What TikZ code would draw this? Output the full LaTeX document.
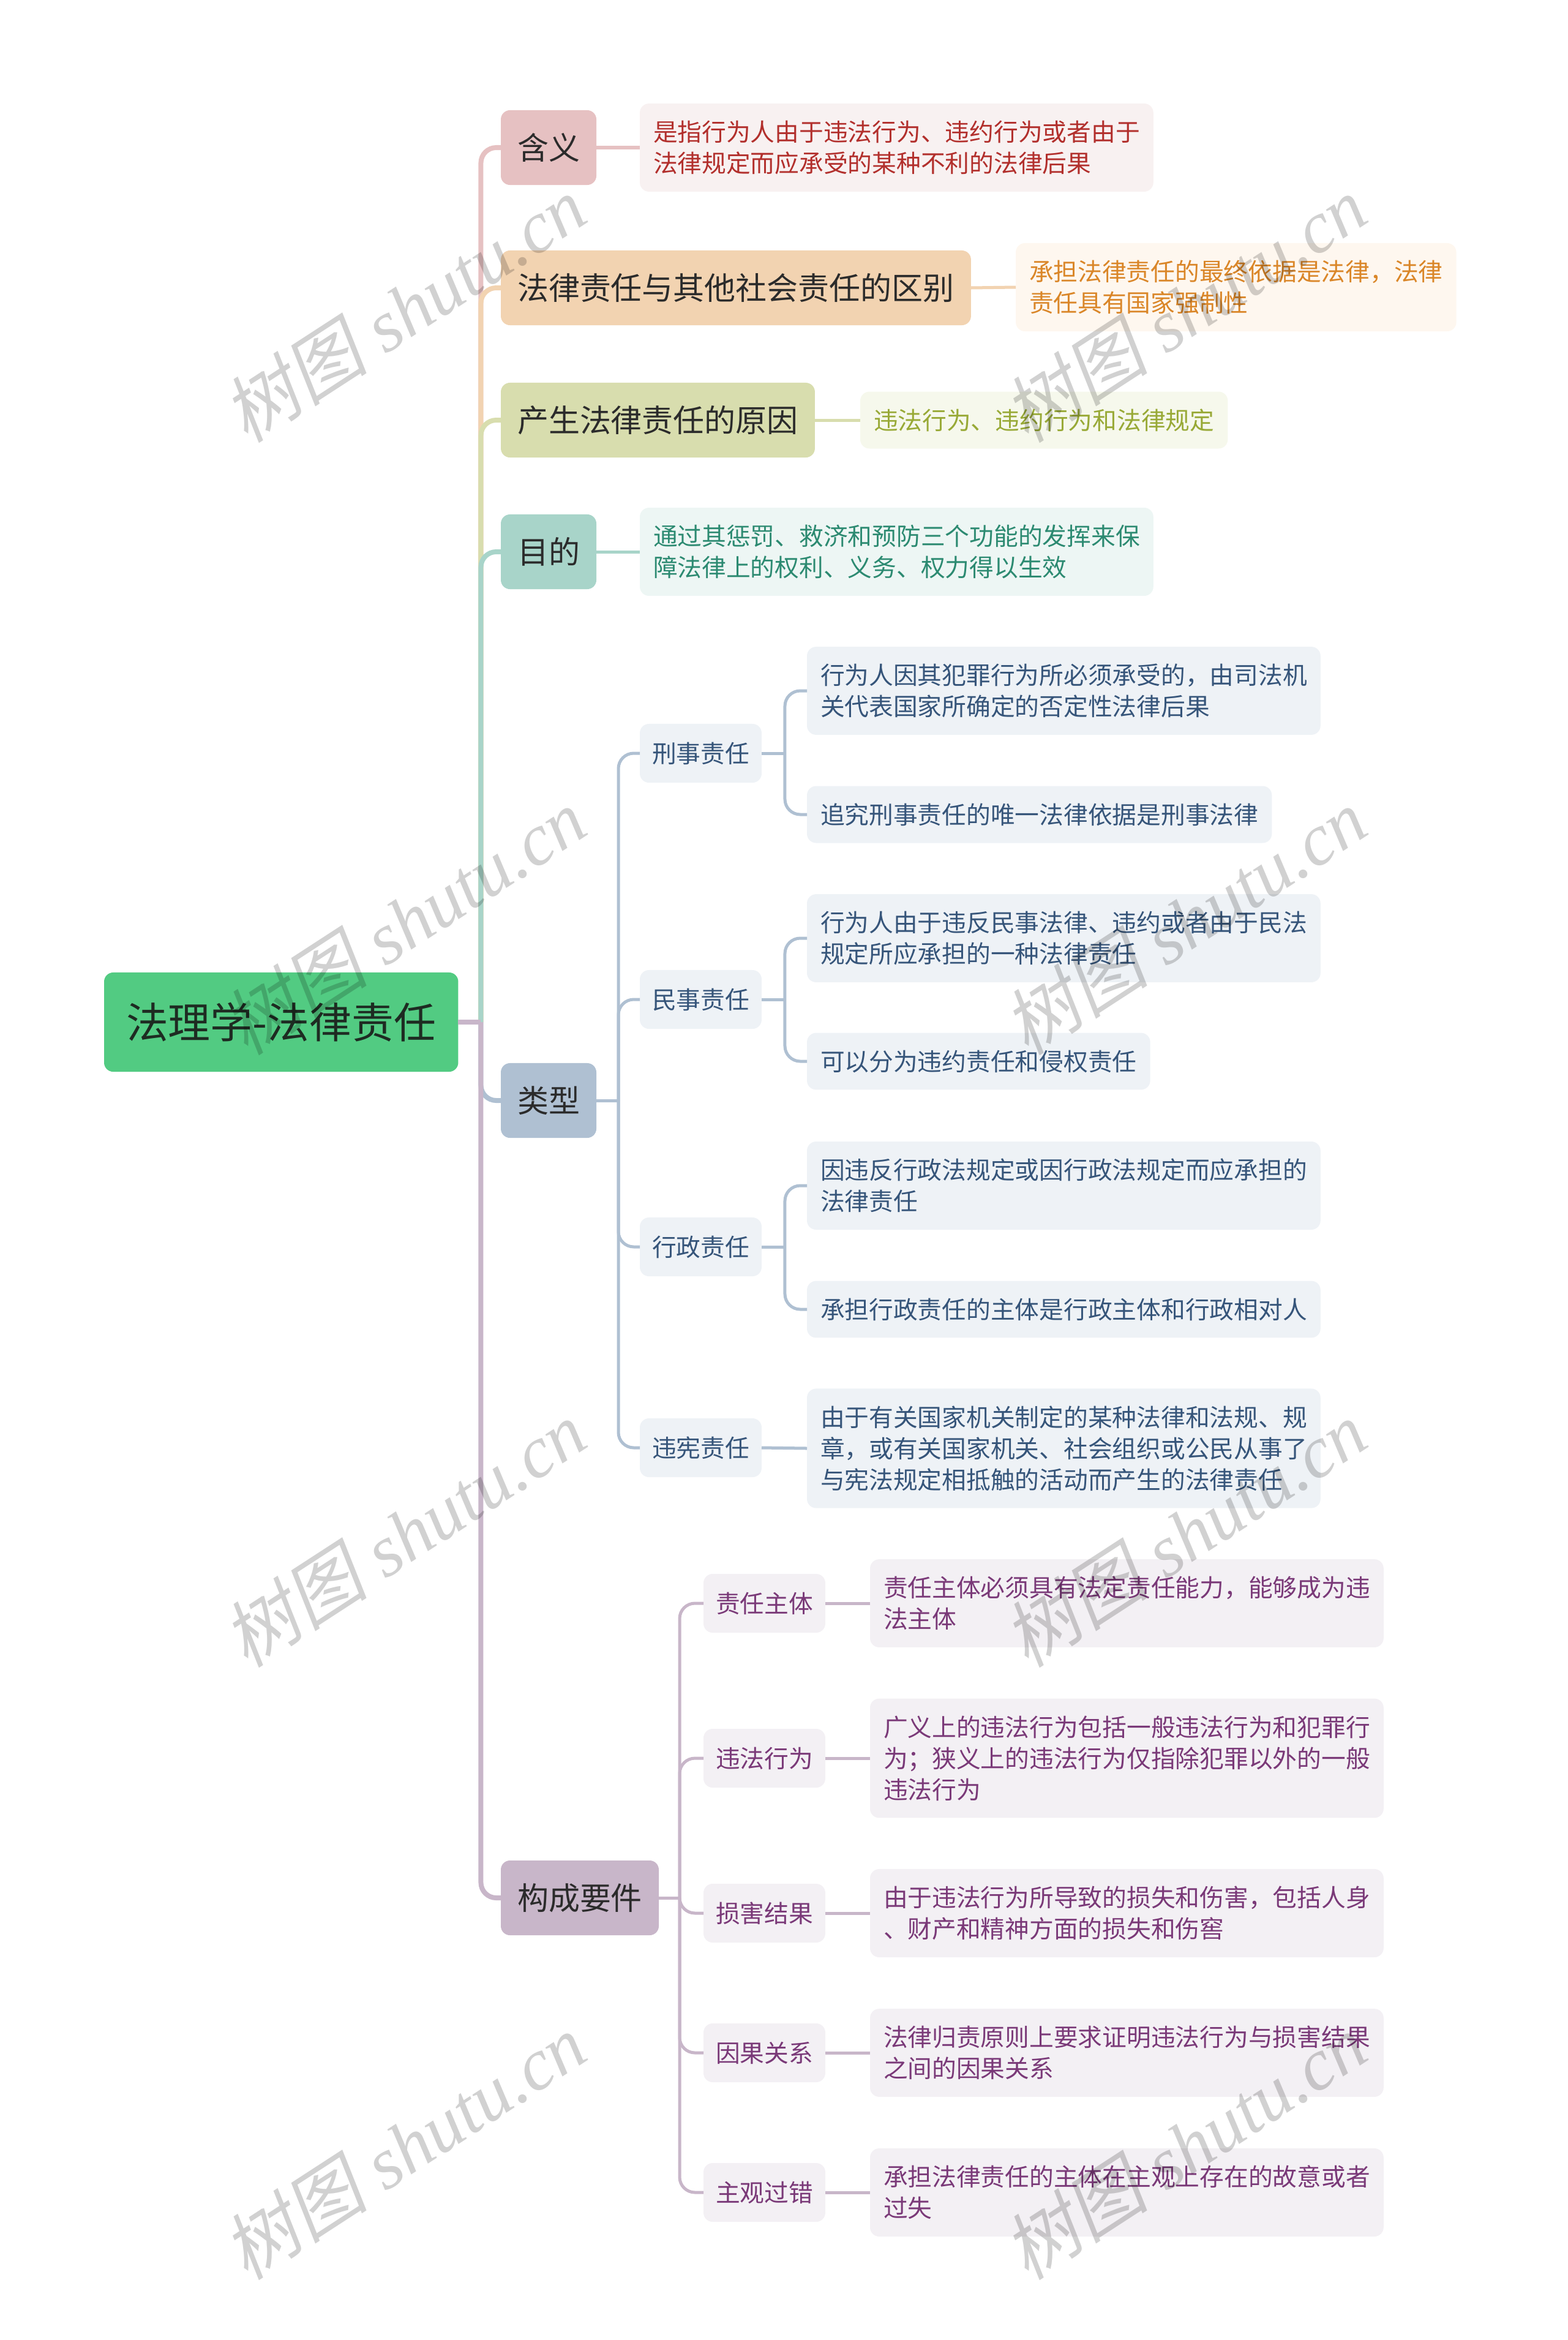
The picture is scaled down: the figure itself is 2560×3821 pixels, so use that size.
\documentclass[tikz,border=0pt]{standalone}
\usepackage{fontspec}
\setmainfont{Noto Sans CJK SC}
\newfontfamily\wmlat{Liberation Serif}
\newfontfamily\wmcjk{Noto Sans CJK SC}[FakeSlant=0.2]
\usetikzlibrary{calc}

\definecolor{rootgreen}{HTML}{52CB82}
\definecolor{roottxt}{HTML}{1E2B22}
\definecolor{txtdark}{HTML}{2B2B2B}
\definecolor{hanA}{HTML}{E6C1C2}
\definecolor{hanB}{HTML}{F8F1F1}
\definecolor{hanT}{HTML}{B22F2C}
\definecolor{quA}{HTML}{F2D3B1}
\definecolor{quB}{HTML}{FEF7EF}
\definecolor{quT}{HTML}{DA8628}
\definecolor{yuanA}{HTML}{D8DDAE}
\definecolor{yuanB}{HTML}{F6F8EC}
\definecolor{yuanT}{HTML}{98A936}
\definecolor{muA}{HTML}{A8D4C9}
\definecolor{muB}{HTML}{EDF6F4}
\definecolor{muT}{HTML}{2C8A71}
\definecolor{leiA}{HTML}{AFC0D2}
\definecolor{leiB}{HTML}{EEF2F6}
\definecolor{leiT}{HTML}{36557A}
\definecolor{gouA}{HTML}{C8B6C9}
\definecolor{gouB}{HTML}{F3F0F4}
\definecolor{gouT}{HTML}{7A3978}

\tikzset{
  box/.style={rounded corners=0.15cm, outer sep=0pt, anchor=west, text=txtdark},
  rootbox/.style={box, fill=rootgreen, text=roottxt, font=\fontsize{19.6pt}{24pt}\selectfont, inner xsep=0.36cm, minimum height=1.62cm},
  topicbox/.style={box, font=\fontsize{14.5pt}{18pt}\selectfont, inner xsep=0.27cm, minimum height=1.22cm},
  subbox/.style={box, font=\fontsize{11.3pt}{14.5pt}\selectfont, inner xsep=0.2cm, minimum height=0.96cm},
  descbox/.style={box, font=\fontsize{11.3pt}{14.5pt}\selectfont, align=left, inner xsep=0.22cm, inner ysep=0.28cm, minimum height=0.92cm},
  trunk/.style={line width=0.08cm, rounded corners=0.25cm},
  twig/.style={line width=0.05cm, rounded corners=0.25cm},
  wmark/.style={rotate=33, text=black, opacity=0.18, font=\wmlat\itshape\fontsize{34pt}{34pt}\selectfont},
}

\begin{document}
\begin{tikzpicture}[x=0.01cm, y=-0.01cm]
  \useasboundingbox (0,0) rectangle (2560,3821);

  % root and main topics
  \node[rootbox] (root) at (170,1669) {法理学-法律责任};
  \node[topicbox, fill=hanA] (hanyi) at (818,241) {含义};
  \node[topicbox, fill=quA] (qubie) at (818,470) {法律责任与其他社会责任的区别};
  \node[topicbox, fill=yuanA] (yuanyin) at (818,686) {产生法律责任的原因};
  \node[topicbox, fill=muA] (mudi) at (818,901) {目的};
  \node[topicbox, fill=leiA] (leixing) at (818,1797) {类型};
  \node[topicbox, fill=gouA] (goucheng) at (818,3099) {构成要件};

  % texts of the first four topics
  \node[descbox, fill=hanB, text=hanT] (hanyi-d) at (1045,241) {是指行为人由于违法行为、违约行为或者由于\\法律规定而应承受的某种不利的法律后果};
  \node[descbox, fill=quB, text=quT] (qubie-d) at (1659,469) {承担法律责任的最终依据是法律，法律\\责任具有国家强制性};
  \node[descbox, fill=yuanB, text=yuanT] (yuanyin-d) at (1405,686) {违法行为、违约行为和法律规定};
  \node[descbox, fill=muB, text=muT] (mudi-d) at (1045,901) {通过其惩罚、救济和预防三个功能的发挥来保\\障法律上的权利、义务、权力得以生效};

  % kinds
  \node[subbox, fill=leiB, text=leiT] (xingshi) at (1045,1230) {刑事责任};
  \node[subbox, fill=leiB, text=leiT] (minshi) at (1045,1632) {民事责任};
  \node[subbox, fill=leiB, text=leiT] (xingzheng) at (1045,2036) {行政责任};
  \node[subbox, fill=leiB, text=leiT] (weixian) at (1045,2364) {违宪责任};

  \node[descbox, fill=leiB, text=leiT] (xingshi-a) at (1318,1128) {行为人因其犯罪行为所必须承受的，由司法机\\关代表国家所确定的否定性法律后果};
  \node[descbox, fill=leiB, text=leiT] (xingshi-b) at (1318,1330) {追究刑事责任的唯一法律依据是刑事法律};
  \node[descbox, fill=leiB, text=leiT] (minshi-a) at (1318,1532) {行为人由于违反民事法律、违约或者由于民法\\规定所应承担的一种法律责任};
  \node[descbox, fill=leiB, text=leiT] (minshi-b) at (1318,1733) {可以分为违约责任和侵权责任};
  \node[descbox, fill=leiB, text=leiT] (xingzheng-a) at (1318,1936) {因违反行政法规定或因行政法规定而应承担的\\法律责任};
  \node[descbox, fill=leiB, text=leiT] (xingzheng-b) at (1318,2138) {承担行政责任的主体是行政主体和行政相对人};
  \node[descbox, fill=leiB, text=leiT] (weixian-a) at (1318,2365) {由于有关国家机关制定的某种法律和法规、规\\章，或有关国家机关、社会组织或公民从事了\\与宪法规定相抵触的活动而产生的法律责任};

  % elements
  \node[subbox, fill=gouB, text=gouT] (zhuti) at (1149,2618) {责任主体};
  \node[subbox, fill=gouB, text=gouT] (weifa) at (1149,2871) {违法行为};
  \node[subbox, fill=gouB, text=gouT] (sunhai) at (1149,3124) {损害结果};
  \node[subbox, fill=gouB, text=gouT] (yinguo) at (1149,3352) {因果关系};
  \node[subbox, fill=gouB, text=gouT] (guocuo) at (1149,3580) {主观过错};

  \node[descbox, fill=gouB, text=gouT] (zhuti-d) at (1421,2618) {责任主体必须具有法定责任能力，能够成为违\\法主体};
  \node[descbox, fill=gouB, text=gouT] (weifa-d) at (1421,2871) {广义上的违法行为包括一般违法行为和犯罪行\\为；狭义上的违法行为仅指除犯罪以外的一般\\违法行为};
  \node[descbox, fill=gouB, text=gouT] (sunhai-d) at (1421,3124) {由于违法行为所导致的损失和伤害，包括人身\\、财产和精神方面的损失和伤窖};
  \node[descbox, fill=gouB, text=gouT] (yinguo-d) at (1421,3352) {法律归责原则上要求证明违法行为与损害结果\\之间的因果关系};
  \node[descbox, fill=gouB, text=gouT] (guocuo-d) at (1421,3580) {承担法律责任的主体在主观上存在的故意或者\\过失};

  % connectors
  \coordinate (rj) at ($(root.east)+(37,0)$);
  \foreach \n/\c in {hanyi/hanA, qubie/quA, yuanyin/yuanA, mudi/muA, leixing/leiA, goucheng/gouA}
    \draw[trunk, draw=\c] (rj) |- (\n.west);
  \draw[trunk, draw=gouA] (root.east) -- (rj);

  \foreach \n/\c in {hanyi/hanA, qubie/quA, yuanyin/yuanA, mudi/muA}
    \draw[twig, draw=\c] (\n.east) -- (\n-d.west);

  \coordinate (lj) at ($(leixing.east)+(36,0)$);
  \draw[twig, draw=leiA] (leixing.east) -- (lj);
  \foreach \n in {xingshi, minshi, xingzheng, weixian}
    \draw[twig, draw=leiA] (lj) |- (\n.west);
  \foreach \n in {xingshi, minshi, xingzheng} {
    \coordinate (\n-j) at ($(\n.east)+(38,0)$);
    \draw[twig, draw=leiA] (\n.east) -- (\n-j);
    \draw[twig, draw=leiA] (\n-j) |- (\n-a.west);
    \draw[twig, draw=leiA] (\n-j) |- (\n-b.west);
  }
  \draw[twig, draw=leiA] (weixian.east) -- (weixian-a.west);

  \coordinate (gj) at ($(goucheng.east)+(34,0)$);
  \draw[twig, draw=gouA] (goucheng.east) -- (gj);
  \foreach \n in {zhuti, weifa, sunhai, yinguo, guocuo} {
    \draw[twig, draw=gouA] (gj) |- (\n.west);
    \draw[twig, draw=gouA] (\n.east) -- (\n-d.west);
  }

  % watermark
  \foreach \wx in {660, 1935}
    \foreach \wy in {505, 1505, 2505, 3505}
      \node[wmark] at (\wx,\wy) {{\wmcjk 树图} shutu.cn};
\end{tikzpicture}
\end{document}
